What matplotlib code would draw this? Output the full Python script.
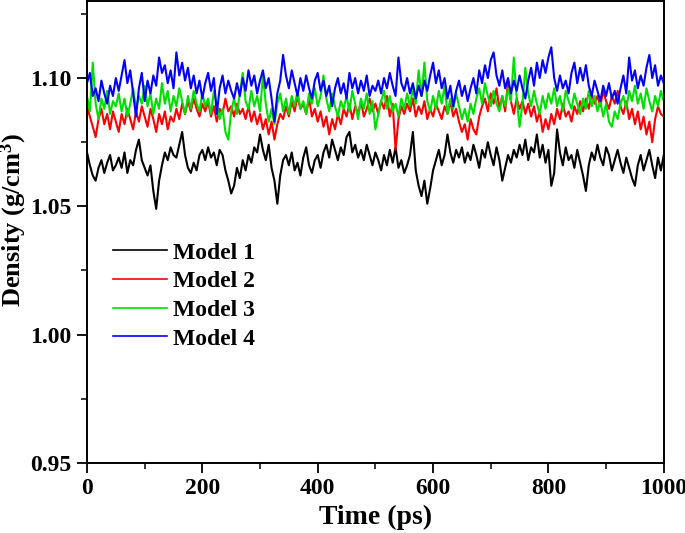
import numpy as np
import matplotlib
matplotlib.use("Agg")
import matplotlib.pyplot as plt

plt.rcParams['font.family'] = ['Liberation Serif', 'DejaVu Serif']
plt.rcParams['font.weight'] = 'bold'
plt.rcParams['mathtext.fontset'] = 'custom'
plt.rcParams['mathtext.rm'] = 'Liberation Serif:bold'
plt.rcParams['mathtext.it'] = 'Liberation Serif:bold'
plt.rcParams['mathtext.bf'] = 'Liberation Serif:bold'

# time axis, one sample every 5 ps
time_ps = np.arange(0, 1001, 5)

model1 = [
    1.071, 1.066, 1.062, 1.060, 1.065, 1.068, 1.063, 1.067, 1.070, 1.064, 1.066,
    1.069, 1.065, 1.071, 1.063, 1.068, 1.066, 1.072, 1.076, 1.068, 1.065,
    1.062, 1.066, 1.056, 1.049, 1.060, 1.066, 1.071, 1.068, 1.073, 1.070,
    1.069, 1.074, 1.079, 1.070, 1.065, 1.063, 1.067, 1.064, 1.070, 1.072,
    1.068, 1.073, 1.069, 1.071, 1.066, 1.072, 1.070, 1.064, 1.060, 1.055,
    1.058, 1.065, 1.061, 1.068, 1.064, 1.070, 1.067, 1.073, 1.071, 1.078,
    1.072, 1.068, 1.074, 1.065, 1.060, 1.051, 1.062, 1.068, 1.070, 1.066,
    1.071, 1.064, 1.067, 1.062, 1.069, 1.073, 1.066, 1.063, 1.068, 1.070,
    1.065, 1.071, 1.074, 1.069, 1.076, 1.072, 1.068, 1.073, 1.070, 1.077,
    1.079, 1.071, 1.074, 1.069, 1.072, 1.068, 1.074, 1.070, 1.066, 1.071,
    1.068, 1.064, 1.070, 1.066, 1.072, 1.067, 1.073, 1.065, 1.068, 1.063,
    1.066, 1.070, 1.079, 1.064, 1.058, 1.054, 1.060, 1.051, 1.057, 1.064,
    1.068, 1.072, 1.066, 1.070, 1.078, 1.071, 1.067, 1.072, 1.069, 1.073,
    1.067, 1.071, 1.068, 1.074, 1.070, 1.065, 1.072, 1.069, 1.075, 1.070,
    1.066, 1.073, 1.068, 1.060, 1.065, 1.070, 1.067, 1.072, 1.069, 1.074,
    1.070, 1.076, 1.068, 1.073, 1.071, 1.078, 1.069, 1.074, 1.067, 1.072,
    1.058, 1.063, 1.080, 1.071, 1.066, 1.073, 1.068, 1.070, 1.065, 1.072,
    1.067, 1.062, 1.056, 1.066, 1.071, 1.068, 1.074, 1.069, 1.066, 1.073,
    1.070, 1.064, 1.068, 1.072, 1.067, 1.063, 1.069, 1.065, 1.061, 1.058,
    1.066, 1.070, 1.064, 1.068, 1.072, 1.066, 1.061, 1.069, 1.064, 1.070,
]

model2 = [
    1.089, 1.085, 1.081, 1.077, 1.084, 1.088, 1.082, 1.086, 1.080, 1.087, 1.083,
    1.079, 1.086, 1.082, 1.088, 1.084, 1.080, 1.087, 1.083, 1.089, 1.085,
    1.081, 1.088, 1.084, 1.079, 1.086, 1.082, 1.087, 1.080, 1.085, 1.083,
    1.088, 1.084, 1.090, 1.086, 1.091, 1.087, 1.092, 1.088, 1.085, 1.090,
    1.087, 1.091, 1.085, 1.089, 1.083, 1.088, 1.086, 1.092, 1.087, 1.089,
    1.085, 1.090, 1.086, 1.088, 1.084, 1.089, 1.083, 1.087, 1.082, 1.086,
    1.080, 1.084, 1.078, 1.083, 1.076, 1.082, 1.086, 1.084, 1.089, 1.085,
    1.091, 1.087, 1.093, 1.088, 1.090, 1.086, 1.092, 1.085, 1.088, 1.083,
    1.087, 1.081, 1.085, 1.078, 1.084, 1.080, 1.086, 1.082, 1.088, 1.085,
    1.090, 1.084, 1.089, 1.086, 1.091, 1.085, 1.088, 1.092, 1.087, 1.090,
    1.086, 1.091, 1.088, 1.093, 1.085, 1.090, 1.072, 1.084, 1.089, 1.086,
    1.090, 1.087, 1.092, 1.085, 1.089, 1.086, 1.091, 1.084, 1.088, 1.085,
    1.090, 1.087, 1.084, 1.089, 1.086, 1.091, 1.085, 1.088, 1.083, 1.079,
    1.082, 1.076, 1.084, 1.080, 1.078, 1.085, 1.089, 1.092, 1.087, 1.094,
    1.090, 1.096, 1.088, 1.093, 1.087, 1.099, 1.091, 1.086, 1.092, 1.088,
    1.091, 1.086, 1.090, 1.085, 1.089, 1.083, 1.087, 1.079, 1.084, 1.080,
    1.086, 1.082, 1.088, 1.084, 1.090, 1.085, 1.087, 1.083, 1.089, 1.086,
    1.091, 1.087, 1.092, 1.088, 1.094, 1.090, 1.093, 1.089, 1.095, 1.091,
    1.088, 1.093, 1.090, 1.095, 1.089, 1.086, 1.091, 1.084, 1.088, 1.082,
    1.087, 1.080, 1.085, 1.078, 1.083, 1.075, 1.084, 1.089, 1.086, 1.085,
]

model3 = [
    1.093, 1.087, 1.106, 1.090, 1.084, 1.092, 1.088, 1.095, 1.086, 1.091, 1.089,
    1.094, 1.087, 1.092, 1.085, 1.090, 1.096, 1.088, 1.093, 1.090, 1.097,
    1.089, 1.094, 1.086, 1.092, 1.088, 1.098, 1.090, 1.095, 1.087, 1.093,
    1.089, 1.096, 1.091, 1.086, 1.093, 1.088, 1.095, 1.090, 1.087, 1.094,
    1.089, 1.092, 1.086, 1.095, 1.090, 1.084, 1.088, 1.079, 1.076, 1.087,
    1.092, 1.086, 1.094, 1.102, 1.091, 1.088, 1.095, 1.089, 1.093, 1.087,
    1.101, 1.090, 1.083, 1.088, 1.082, 1.090, 1.094, 1.087, 1.092, 1.086,
    1.093, 1.089, 1.095, 1.088, 1.091, 1.086, 1.094, 1.090, 1.096, 1.089,
    1.093, 1.101, 1.092, 1.087, 1.094, 1.089, 1.085, 1.091, 1.088, 1.093,
    1.087, 1.095, 1.090, 1.084, 1.092, 1.088, 1.094, 1.086, 1.091, 1.080,
    1.086, 1.091, 1.095, 1.088, 1.093, 1.087, 1.090, 1.085, 1.092, 1.088,
    1.094, 1.089, 1.096, 1.090, 1.103, 1.093, 1.106, 1.091, 1.087, 1.093,
    1.088, 1.095, 1.090, 1.097, 1.086, 1.092, 1.088, 1.094, 1.089, 1.084,
    1.088, 1.083, 1.090, 1.086, 1.092, 1.096, 1.090, 1.098, 1.093, 1.089,
    1.095, 1.090, 1.087, 1.093, 1.089, 1.096, 1.091, 1.108, 1.092, 1.081,
    1.090, 1.104, 1.094, 1.089, 1.095, 1.090, 1.086, 1.093, 1.088, 1.094,
    1.090, 1.096, 1.089, 1.093, 1.087, 1.095, 1.091, 1.088, 1.094, 1.090,
    1.086, 1.092, 1.088, 1.095, 1.089, 1.093, 1.087, 1.091, 1.085, 1.090,
    1.083, 1.081, 1.087, 1.084, 1.090, 1.093, 1.088, 1.095, 1.091, 1.097,
    1.090, 1.094, 1.088, 1.096, 1.091, 1.087, 1.093, 1.089, 1.095, 1.091,
]

model4 = [
    1.098, 1.102, 1.093, 1.096, 1.091, 1.099, 1.094, 1.090, 1.097, 1.093, 1.100,
    1.095, 1.101, 1.107, 1.098, 1.103, 1.094, 1.085, 1.096, 1.102, 1.091,
    1.099, 1.094, 1.101, 1.097, 1.108, 1.102, 1.105, 1.098, 1.103, 1.096,
    1.110, 1.101, 1.106, 1.099, 1.104, 1.096, 1.101, 1.094, 1.099, 1.092,
    1.098, 1.102, 1.095, 1.100, 1.086, 1.096, 1.101, 1.094, 1.099, 1.095,
    1.092, 1.098, 1.093, 1.100, 1.095, 1.103, 1.097, 1.101, 1.094, 1.099,
    1.103, 1.096, 1.100, 1.092, 1.083, 1.094, 1.099, 1.109, 1.101, 1.096,
    1.103, 1.098, 1.093, 1.100, 1.095, 1.101, 1.096, 1.092, 1.099, 1.102,
    1.095, 1.099, 1.093, 1.097, 1.089, 1.096, 1.100, 1.094, 1.098, 1.092,
    1.102, 1.096, 1.100, 1.094, 1.099, 1.095, 1.101, 1.093, 1.097, 1.095,
    1.099, 1.094, 1.100, 1.096, 1.102, 1.097, 1.093, 1.108, 1.098, 1.095,
    1.100, 1.094, 1.098, 1.092, 1.097, 1.093, 1.099, 1.095, 1.101, 1.106,
    1.098, 1.103, 1.096, 1.100, 1.092, 1.097, 1.089, 1.095, 1.099, 1.093,
    1.097, 1.091, 1.096, 1.100, 1.094, 1.103, 1.098, 1.105, 1.100, 1.107,
    1.110, 1.101, 1.097, 1.103, 1.096, 1.100, 1.094, 1.099, 1.095, 1.101,
    1.096, 1.092, 1.099, 1.104, 1.097, 1.106, 1.100, 1.107, 1.102, 1.108,
    1.112, 1.100, 1.095, 1.101, 1.096, 1.099, 1.094, 1.102, 1.106, 1.098,
    1.104, 1.099, 1.105, 1.097, 1.093, 1.099, 1.095, 1.091, 1.097, 1.093,
    1.098, 1.092, 1.095, 1.090, 1.096, 1.101, 1.094, 1.108, 1.099, 1.103,
    1.096, 1.101, 1.097, 1.104, 1.109, 1.100, 1.105, 1.097, 1.101, 1.098,
]

labels = ['Model 1', 'Model 2', 'Model 3', 'Model 4']
colors = ['#000000', '#ff0000', '#00e000', '#0000ff']

fig = plt.figure(figsize=(6.85, 5.33), dpi=100)
ax = fig.add_axes([0.127, 0.1315, 0.842, 0.8665])

for series, lab, col in zip([model1, model2, model3, model4], labels, colors):
    ax.plot(time_ps, series, color=col, lw=1.5, label=lab)

ax.set_xlim(0, 1000)
ax.set_ylim(0.95, 1.13)
ax.set_xticks([0, 200, 400, 600, 800, 1000])
ax.set_xticks(np.arange(100, 1000, 200), minor=True)
ax.set_yticks([0.95, 1.00, 1.05, 1.10])
ax.set_yticks([0.975, 1.025, 1.075, 1.125], minor=True)
ax.yaxis.set_major_formatter(matplotlib.ticker.FormatStrFormatter('%.2f'))
ax.tick_params(which='major', direction='out', length=7, width=1.3, labelsize=17, pad=4)
ax.tick_params(which='minor', direction='out', length=4, width=1.1)
for s in ax.spines.values():
    s.set_linewidth(1.4)

ax.set_xlabel('Time (ps)', fontsize=20, fontweight='bold', labelpad=4)
ax.set_ylabel('Density (g/cm$^3$)', fontsize=19, fontweight='bold')
ax.yaxis.set_label_coords(-0.1, 0.527)

leg = ax.legend(loc='upper left', bbox_to_anchor=(0.045, 0.478), frameon=False,
                fontsize=17, handlelength=2.3, handletextpad=0.25,
                labelspacing=0.3, borderpad=0, borderaxespad=0)
for h in leg.get_lines():
    h.set_linewidth(1.2)

fig.savefig('out.png', dpi=100)
